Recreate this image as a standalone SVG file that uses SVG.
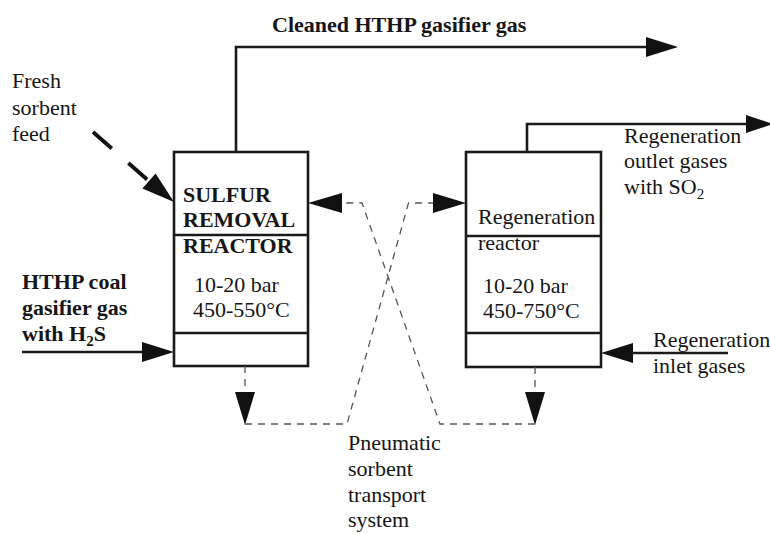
<svg xmlns="http://www.w3.org/2000/svg" width="770" height="534" viewBox="0 0 770 534">
<style>
text{font-family:'Liberation Serif','Times New Roman',serif;font-size:22px;fill:#161616}
.b{font-weight:bold}
.box{fill:none;stroke:#1a1a1a;stroke-width:2.6}
.ln{fill:none;stroke:#1a1a1a;stroke-width:2.6}
.dash{fill:none;stroke:#555;stroke-width:1.3;stroke-dasharray:7 6}
.head{fill:#111}
</style>
<rect width="770" height="534" fill="#fff"/>
<g id="sulfur-removal-reactor">
<rect class="box" x="174" y="152" width="134" height="214"/>
<line class="box" x1="174" y1="235" x2="308" y2="235"/>
<line class="box" x1="174" y1="333" x2="308" y2="333"/>
<text class="b" x="183" y="202">SULFUR</text>
<text class="b" x="183" y="227">REMOVAL</text>
<text class="b" x="183" y="253">REACTOR</text>
<text x="194" y="292">10-20 bar</text>
<text x="193" y="317">450-550°C</text>
</g>
<g id="regeneration-reactor">
<rect class="box" x="466" y="152" width="135" height="215"/>
<line class="box" x1="466" y1="236" x2="601" y2="236"/>
<line class="box" x1="466" y1="333" x2="601" y2="333"/>
<text x="478" y="224">Regeneration</text>
<text x="478" y="250">reactor</text>
<text x="483" y="293">10-20 bar</text>
<text x="483" y="318">450-750°C</text>
</g>
<g id="labels">
<text class="b" x="272" y="32">Cleaned HTHP gasifier gas</text>
<text x="12" y="88">Fresh</text>
<text x="12" y="115">sorbent</text>
<text x="12" y="141">feed</text>
<text class="b" x="22" y="289">HTHP coal</text>
<text class="b" x="22" y="315">gasifier gas</text>
<text class="b" x="22" y="341">with H<tspan font-size="15" dy="5">2</tspan><tspan dy="-5">S</tspan></text>
<text x="624" y="143">Regeneration</text>
<text x="624" y="168">outlet gases</text>
<text x="624" y="194">with SO<tspan font-size="15" dy="5">2</tspan></text>
<text x="653" y="347">Regeneration</text>
<text x="653" y="373">inlet gases</text>
<text x="348" y="450">Pneumatic</text>
<text x="348" y="476">sorbent</text>
<text x="348" y="502">transport</text>
<text x="348" y="527">system</text>
</g>
<g id="connectors">
<polyline class="ln" points="236,152 236,47 648,47"/>
<polygon class="head" points="678,47 646,37 646,57"/>
<polyline class="ln" points="527,152 527,124 748,124"/>
<polygon class="head" points="773,124 746,115 746,133"/>
<line class="ln" x1="22" y1="352" x2="144" y2="352"/>
<polygon class="head" points="174,352 142,342 142,362"/>
<line class="ln" x1="728" y1="353" x2="631" y2="353"/>
<polygon class="head" points="601,353 633,343 633,363"/>
<line x1="93" y1="132" x2="150" y2="182" stroke="#111" stroke-width="3.8" stroke-dasharray="25 22"/>
<polygon class="head" points="174,202 142.4,188.5 155.6,173.5"/>
<polyline class="dash" points="245,366 245,394"/>
<polygon class="head" points="245,425 235,392 255,392"/>
<polyline class="dash" points="245,424 347,424 408.5,203 434,203"/>
<polygon class="head" points="466,203 433,193 433,213"/>
<polyline class="dash" points="535,367 535,394"/>
<polygon class="head" points="535,425 525,392 545,392"/>
<polyline class="dash" points="535,424 440,424 362,203 342,203"/>
<polygon class="head" points="308,203 342,193 342,213"/>
</g>
</svg>
